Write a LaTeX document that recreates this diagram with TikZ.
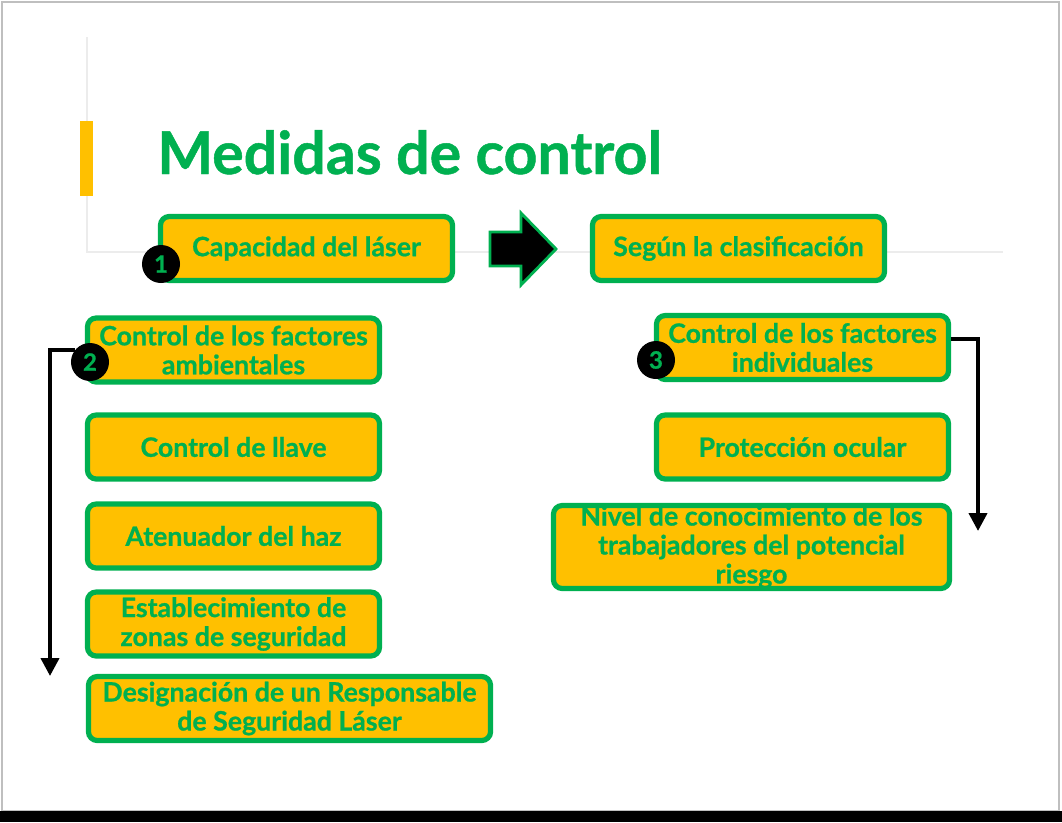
\documentclass[tikz,border=0pt]{standalone}
\usepackage{fontspec}
\setmainfont{Lato}[BoldFeatures={FakeBold=0.8}]
\usetikzlibrary{arrows.meta}
\definecolor{verde}{RGB}{0,176,80}
\definecolor{amarillo}{RGB}{255,192,0}

\begin{document}
\begin{tikzpicture}
  [x=0.025cm,y=-0.025cm,
   caja/.style={rectangle,rounded corners=0.22cm,draw=verde,line width=0.13cm,fill=amarillo,
     text=verde,font=\fontsize{19}{20.6}\selectfont\bfseries,align=center,
     minimum width=7.3cm,minimum height=1.6cm,inner sep=0pt},
   numero/.style={circle,fill=black,text=verde,font=\fontsize{17}{17}\selectfont\bfseries,
     minimum size=0.95cm,inner sep=0pt},
   flecha/.style={line width=0.1cm,-{Triangle[length=0.45cm,width=0.45cm]}}]

  \useasboundingbox (0,0) rectangle (1062,822);
  \fill[white] (0,0) rectangle (1062,822);
  \draw[gray!15,line width=0.03cm] (87,37) -- (87,252) -- (1003,252);
  \draw[gray!50,line width=0.05cm] (2,2) rectangle (1059,811);
  \fill[black] (0,811) rectangle (1062,822);

  \fill[amarillo] (80,121) rectangle (93,196);
  \node[anchor=base west,inner sep=0pt,text=verde,font=\fontsize{42}{42}\selectfont\bfseries] (titulo) at (157,174) {Medidas de control};

  \node[caja] (cap) at (306.5,248.5) {Capacidad del láser};
  \node[caja] (seg) at (738.5,248.5) {Según la clasificación};
  \draw[fill=black,draw=verde,line width=0.07cm] (490,232) -- (521,232) -- (521,213) -- (556,249) -- (521,285) -- (521,266) -- (490,266) -- cycle;

  \node[caja] (amb) at (233.5,350) {Control de los factores\\ambientales};
  \node[caja] (llave) at (233.5,447) {Control de llave};
  \node[caja] (haz) at (233.5,536) {Atenuador del haz};
  \node[caja] (zonas) at (233.5,624) {Establecimiento de\\zonas de seguridad};
  \node[caja,minimum width=10.05cm] (resp) at (289.5,708.5) {Designación de un Responsable\\de Seguridad Láser};

  \node[caja] (ind) at (802.5,347.5) {Control de los factores\\individuales};
  \node[caja] (ocular) at (802.5,447) {Protección ocular};
  \node[caja,minimum width=9.9cm,minimum height=2.075cm] (nivel) at (751.5,547) {Nivel de conocimiento de los\\trabajadores del potencial\\riesgo};

  \node[numero] (n1) at (161,264) {1};
  \node[numero] (n2) at (90,362) {2};
  \node[numero] (n3) at (656,360) {3};

  \coordinate (finizq) at (50,676);
  \coordinate (finder) at (978,531);
  \draw[flecha] (n2.141) -| (finizq);
  \draw[flecha] ([yshift=0.21cm]ind.east) -| (finder);
\end{tikzpicture}
\end{document}
